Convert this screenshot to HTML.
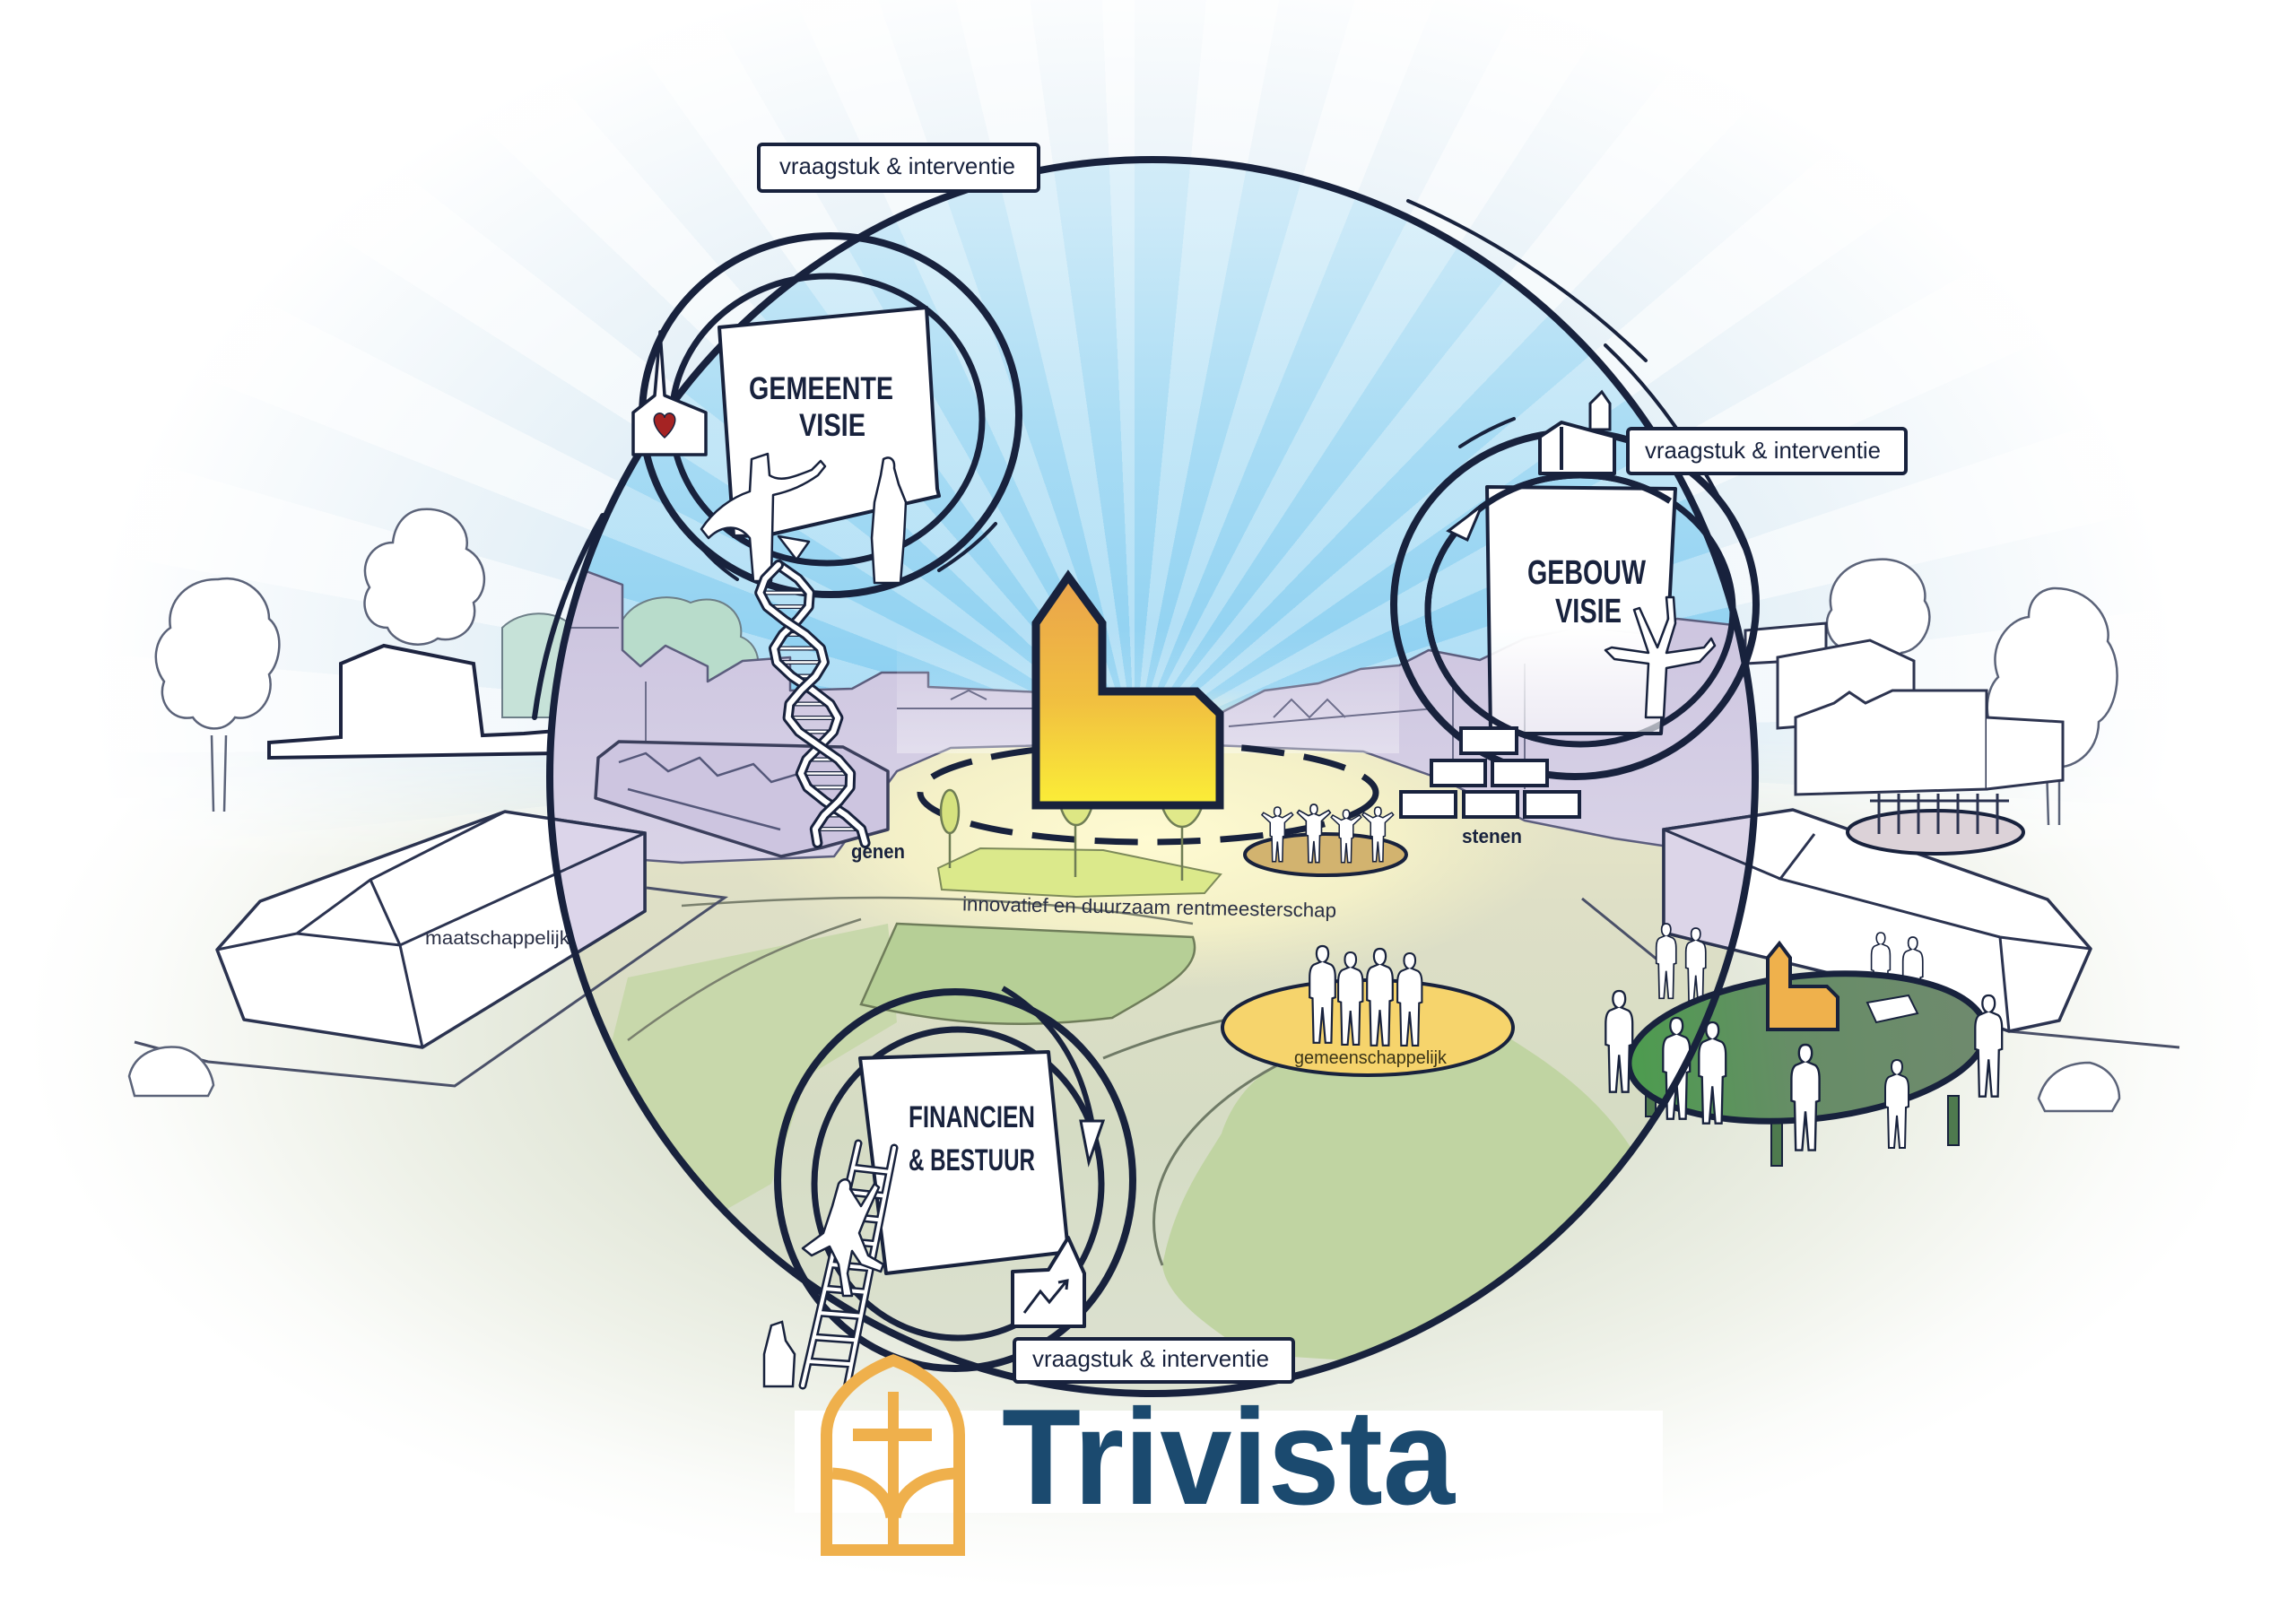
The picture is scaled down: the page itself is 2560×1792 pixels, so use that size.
<!DOCTYPE html>
<html><head><meta charset="utf-8">
<style>
html,body{margin:0;padding:0;width:2560px;height:1792px;overflow:hidden;background:#fff}
.l{position:absolute;left:0;top:0;width:2560px;height:1792px}
#bg{background:
 repeating-conic-gradient(from 0deg at 1265px 830px, rgba(255,255,255,0) 0deg 5.5deg, rgba(255,255,255,.55) 5.5deg 11deg),
 radial-gradient(ellipse 1350px 950px at 1265px 760px, #c6e2f3 0%, #d9ebf6 35%, #ecf4f9 60%, #ffffff 86%);}
#sky{clip-path:ellipse(672px 688px at 1285px 866px);
 background:
 repeating-conic-gradient(from 0deg at 1265px 830px, rgba(255,255,255,0) 0deg 5.5deg, rgba(255,255,255,.30) 5.5deg 11deg),
 linear-gradient(180deg,#e3f2fb 0px,#cdeaf8 230px,#a9dcf4 480px,#8acff1 800px);}
svg text{font-family:"Liberation Sans",sans-serif}
</style></head><body>
<div class="l" id="bg"></div>
<div class="l" id="sky"></div>
<svg class="l" width="2560" height="1792" viewBox="0 0 2560 1792" xmlns="http://www.w3.org/2000/svg">
<defs>
 <clipPath id="E"><ellipse cx="1285" cy="866" rx="672" ry="688"/></clipPath>
 <linearGradient id="churchG" x1="0" y1="0" x2="0" y2="1">
  <stop offset="0" stop-color="#eaa34b"/><stop offset="0.55" stop-color="#f1c040"/><stop offset="1" stop-color="#fbee37"/>
 </linearGradient>
 <radialGradient id="go" gradientUnits="userSpaceOnUse" cx="1280" cy="1150" r="1250" gradientTransform="translate(0 575) scale(1 0.5)">
  <stop offset="0" stop-color="#d6ddc6"/><stop offset="0.45" stop-color="#dfe4d4"/><stop offset="0.7" stop-color="#eef1e8"/><stop offset="0.9" stop-color="#fbfcfa"/><stop offset="1" stop-color="#ffffff"/>
 </radialGradient>
 <linearGradient id="gmg" gradientUnits="userSpaceOnUse" x1="0" y1="820" x2="0" y2="960">
  <stop offset="0" stop-color="#000"/><stop offset="1" stop-color="#fff"/>
 </linearGradient>
 <mask id="gm" maskUnits="userSpaceOnUse" x="0" y="0" width="2560" height="1792"><rect x="0" y="820" width="2560" height="972" fill="url(#gmg)"/></mask>
 <linearGradient id="gi" gradientUnits="userSpaceOnUse" x1="0" y1="830" x2="0" y2="1554">
  <stop offset="0" stop-color="#ebe8c8"/><stop offset="0.25" stop-color="#dedfc6"/><stop offset="0.6" stop-color="#d5dcc4"/><stop offset="1" stop-color="#dde2d2"/>
 </linearGradient>
 <linearGradient id="purp" gradientUnits="userSpaceOnUse" x1="0" y1="640" x2="0" y2="960">
  <stop offset="0" stop-color="#cbc3de"/><stop offset="0.5" stop-color="#d2cbe3"/><stop offset="1" stop-color="#d9d3e7"/>
 </linearGradient>
 <radialGradient id="plaza" gradientUnits="userSpaceOnUse" cx="1280" cy="935" r="460" gradientTransform="translate(0 589) scale(1 0.37)">
  <stop offset="0" stop-color="#fffbd2"/><stop offset="0.6" stop-color="#f7f3c8" stop-opacity="0.85"/><stop offset="1" stop-color="#f1eec6" stop-opacity="0"/>
 </radialGradient>
 <linearGradient id="tableG" x1="0" y1="0" x2="1" y2="0">
  <stop offset="0" stop-color="#4c9c4e"/><stop offset="0.45" stop-color="#668d66"/><stop offset="1" stop-color="#6f8a6e"/>
 </linearGradient>
 <linearGradient id="sheetG" gradientUnits="userSpaceOnUse" x1="0" y1="700" x2="0" y2="820">
  <stop offset="0" stop-color="#fff"/><stop offset="1" stop-color="#fff" stop-opacity="0.6"/>
 </linearGradient>
 <linearGradient id="haze" gradientUnits="userSpaceOnUse" x1="0" y1="700" x2="0" y2="840">
  <stop offset="0" stop-color="#fff" stop-opacity="0"/><stop offset="1" stop-color="#fff" stop-opacity="0.35"/>
 </linearGradient>
 <path id="pp" d="M15 0 C20 0 21 4 21 8 C21 12 19 15 17 16 L24 19 C27 21 28 26 28 32 L28 52 L25 53 L24 98 L18 98 L15 62 L12 98 L6 98 L5 53 L2 52 L2 32 C2 26 3 21 6 19 L13 16 C11 15 9 12 9 8 C9 4 10 0 15 0 Z"/>
 <path id="pa" d="M15 0 C20 0 21 4 21 8 C21 12 19 15 17 16 L24 19 L40 10 L43 14 L28 28 L28 52 L25 53 L24 98 L18 98 L15 62 L12 98 L6 98 L5 53 L2 52 L2 28 L-13 14 L-10 10 L6 19 L13 16 C11 15 9 12 9 8 C9 4 10 0 15 0 Z"/>
</defs>

<!-- outside ground -->
<rect x="0" y="820" width="2560" height="972" fill="url(#go)" mask="url(#gm)"/>

<!-- left side outside: trees & buildings -->
<g fill="#fff" stroke="#5b6379" stroke-width="2.5">
 <path d="M236 820 L238 905 M252 820 L250 905" fill="none"/>
 <path d="M243 646 C275 640 300 665 300 690 C318 705 312 740 300 752 C308 780 285 805 262 800 C250 818 225 815 215 800 C190 805 175 780 183 760 C168 740 172 712 190 700 C185 670 210 645 243 646 Z"/>
 <path d="M470 568 C505 565 525 590 520 612 C545 625 545 660 528 672 C535 700 510 718 488 712 C470 725 440 718 432 700 C408 700 400 672 412 655 C398 630 415 605 438 605 C440 585 452 570 470 568 Z"/>
 <path d="M2092 624 C2125 620 2150 645 2146 670 C2160 690 2145 725 2120 728 C2105 742 2075 740 2065 725 C2040 725 2030 695 2042 680 C2035 650 2060 625 2092 624 Z"/>
 <path d="M2086 728 L2088 790 M2098 728 L2098 790" fill="none"/>
 <path d="M2290 656 C2330 655 2355 690 2350 715 C2368 740 2362 790 2340 805 C2340 840 2310 860 2285 855 C2260 870 2232 850 2232 825 C2210 810 2212 770 2228 755 C2215 720 2240 690 2262 688 C2262 668 2275 657 2290 656 Z"/>
 <path d="M2282 855 L2284 920 M2296 855 L2296 920" fill="none"/>
</g>
<path d="M560 700 C580 680 620 678 640 700 C670 700 690 730 680 760 C690 790 660 810 630 800 L560 800 Z" fill="#c6e2d8" stroke="#6d7f88" stroke-width="2"/>
<path d="M300 828 L380 822 L380 740 L428 720 L528 740 L538 820 L584 818 L620 815 L620 840 L300 845 Z" fill="#fff" stroke="#1d2440" stroke-width="4"/>
<!-- right outside buildings -->
<g fill="#fff" stroke="#2d3450" stroke-width="3">
 <path d="M1946 703 L2036 695 L2036 735 L1946 740 Z"/>
 <path d="M1982 733 L2085 714 L2134 737 L2134 800 L1982 812 Z"/>
 <path d="M2002 800 L2045 784 L2062 772 L2080 784 L2110 770 L2215 770 L2215 880 L2002 886 Z"/>
 <path d="M2215 800 L2300 805 L2300 870 L2215 880"/>
</g>

<!-- inside ellipse world -->
<g clip-path="url(#E)">
 <rect x="600" y="820" width="1370" height="760" fill="url(#gi)"/>
 <ellipse cx="1280" cy="935" rx="460" ry="170" fill="url(#plaza)"/>
 <path d="M690 700 C700 670 740 658 770 672 C800 660 830 680 826 710 C850 720 850 750 836 770 L690 780 Z" fill="#b8dccb" stroke="#6d7f88" stroke-width="2"/>
 <path d="M600 950 L600 660 L590 650 L640 632 L694 652 L694 725 L714 743 L742 720 L789 743 L789 760 L828 737 L881 733 L881 770 L950 768 L983 750 L1035 750 L1035 766 L1160 772 L1160 782 L1361 795 L1410 770 L1470 762 L1517 746 L1560 742 L1593 725 L1650 736 L1700 712 L1760 700 L1830 706 L1870 690 L1960 700 L1960 960 L1900 950 L1800 935 L1700 915 L1610 870 L1520 838 L1280 828 L1060 834 L1000 860 L930 955 L760 962 L620 952 Z" fill="url(#purp)" stroke="#5c5e7e" stroke-width="2.5" stroke-linejoin="round"/>
 <rect x="1000" y="700" width="560" height="140" fill="url(#haze)"/>
 <g fill="none" stroke="#6e6f8c" stroke-width="2">
  <path d="M1000 790 L1160 790 M1370 810 L1600 790 M1420 800 L1440 780 L1460 800 L1480 780 L1500 800 M1060 780 L1080 770 L1100 780 M600 700 L690 700 M720 760 L720 850 M1620 760 L1620 860 M1700 740 L1700 880"/>
 </g>
 <path d="M667 845 L690 827 L940 833 L990 860 L990 925 L917 945 L871 955 L664 890 Z" fill="#cdc5e0" stroke="#3b3f5c" stroke-width="3.5" stroke-linejoin="round"/>
 <path d="M690 850 L720 840 L745 860 L780 845 L800 865 L840 852 L860 872 L900 860 M700 880 L870 925" fill="none" stroke="#55587a" stroke-width="2.5"/>
 <path d="M700 1090 L990 1030 L1000 1140 L900 1200 L860 1320 L720 1400 L660 1250 Z" fill="#c8d8ab"/>
 <path d="M1000 1030 L1330 1045 C1342 1080 1300 1100 1240 1135 C1120 1150 1040 1138 960 1120 Z" fill="#b6cf96" stroke="#6f7d5a" stroke-width="2.5"/>
 <path d="M1362 1264 C1380 1210 1420 1185 1444 1181 C1520 1150 1600 1130 1641 1132 C1720 1180 1790 1220 1838 1313 C1790 1400 1720 1480 1641 1526 L1395 1510 C1330 1470 1300 1440 1296 1411 C1310 1340 1340 1300 1362 1264 Z" fill="#c0d4a2"/>
 <path d="M1296 1411 C1260 1320 1330 1230 1450 1175 M1230 1180 C1350 1130 1500 1110 1600 1105" fill="none" stroke="#6f7a66" stroke-width="3"/>
 <path d="M760 1010 C900 1000 1100 990 1330 1030 M700 1160 C780 1100 850 1060 960 1025" fill="none" stroke="#7a806e" stroke-width="2.5"/>
</g>

<!-- left big building -->
<path d="M150 1162 L232 1184 L507 1211 L808 1001 L721 990" fill="none" stroke="#4a5068" stroke-width="3"/>
<path d="M242 1059 L290 1005 L563 905 L719 929 L719 1016 L471 1168 L272 1137 Z" fill="#fff" stroke="#2b3350" stroke-width="3.5" stroke-linejoin="round"/>
<g clip-path="url(#E)"><path d="M242 1059 L290 1005 L563 905 L719 929 L719 1016 L471 1168 L272 1137 Z" fill="#dcd5ea" stroke="#2b3350" stroke-width="3.5"/></g>
<path d="M242 1059 L331 1041 L413 981 L563 905 M331 1041 L446 1054 L719 929 M446 1054 L471 1168 M413 981 L446 1054" fill="none" stroke="#2b3350" stroke-width="3"/>
<path d="M144 1200 C150 1175 175 1165 200 1168 C220 1172 235 1190 238 1210 L232 1222 L150 1222 Z" fill="#fff" stroke="#5b6379" stroke-width="2.5"/>

<!-- right big building -->
<path d="M1764 1002 L1860 1080 M2240 1150 L2430 1168" fill="none" stroke="#4a5068" stroke-width="3"/>
<path d="M1855 925 L1999 903 L2283 1003 L2331 1058 L2296 1138 L2240 1150 L2100 1100 L1855 1040 Z" fill="#fff" stroke="#2b3350" stroke-width="3.5" stroke-linejoin="round"/>
<g clip-path="url(#E)"><path d="M1855 925 L1999 903 L2283 1003 L2331 1058 L2296 1138 L2240 1150 L2100 1100 L1855 1040 Z" fill="#dcd5e8" stroke="#2b3350" stroke-width="3.5"/></g>
<path d="M2023 930 L1985 980 L2230 1045 L2331 1058 M1855 925 L1985 980 M2230 1045 L2240 1150" fill="none" stroke="#2b3350" stroke-width="3"/>
<path d="M2273 1225 C2280 1200 2300 1185 2330 1185 C2350 1190 2363 1205 2363 1225 L2355 1239 L2280 1239 Z" fill="#fff" stroke="#5b6379" stroke-width="2.5"/>
<ellipse cx="2158" cy="928" rx="98" ry="24" fill="#dcd2d8" stroke="#18223d" stroke-width="4"/>
<g stroke="#2b3350" stroke-width="3" fill="none">
 <path d="M2085 893 L2240 893"/>
 <path d="M2095 885 L2095 930 M2117 885 L2117 930 M2139 885 L2139 930 M2161 885 L2161 930 M2183 885 L2183 930 M2205 885 L2205 930 M2227 885 L2227 930"/>
</g>

<!-- center plaza -->
<ellipse cx="1280" cy="884" rx="254" ry="55" fill="none" stroke="#18223d" stroke-width="7" stroke-dasharray="48 22"/>
<path d="M1046 968 L1093 946 L1230 948 L1361 975 L1343 996 L1200 1000 L1050 992 Z" fill="#dbe98b" stroke="#7d8a5a" stroke-width="2"/>
<g stroke="#6f7d55" stroke-width="2.5">
 <path d="M1059 925 L1059 968 M1199 900 L1199 978 M1318 905 L1318 982" fill="none"/>
 <ellipse cx="1059" cy="905" rx="10" ry="24" fill="#d6e27f"/>
 <ellipse cx="1200" cy="880" rx="20" ry="40" fill="#dde784"/>
 <ellipse cx="1318" cy="870" rx="27" ry="52" fill="#e0e98a"/>
</g>
<polygon points="1191,643 1155,695 1155,898 1360,898 1360,796 1334,771 1229,771 1229,695" fill="url(#churchG)" stroke="#18223d" stroke-width="9" stroke-linejoin="miter"/>
<ellipse cx="1478" cy="953" rx="90" ry="23" fill="#d2b36f" stroke="#18223d" stroke-width="4"/>
<g fill="#fff" stroke="#18223d" stroke-width="2.5">
 <use href="#pa" transform="translate(1415 900) scale(0.62)"/>
 <use href="#pa" transform="translate(1455 897) scale(0.66)"/>
 <use href="#pa" transform="translate(1492 903) scale(0.6)"/>
 <use href="#pa" transform="translate(1527 900) scale(0.62)"/>
</g>
<ellipse cx="1525" cy="1146" rx="162" ry="53" fill="#f6d46c" stroke="#18223d" stroke-width="4"/>
<g fill="#fff" stroke="#18223d" stroke-width="2">
 <use href="#pp" transform="translate(1458 1055) scale(1.1)"/>
 <use href="#pp" transform="translate(1490 1062) scale(1.05)"/>
 <use href="#pp" transform="translate(1522 1058) scale(1.1)"/>
 <use href="#pp" transform="translate(1556 1063) scale(1.05)"/>
</g>

<!-- table -->
<g fill="#4e7a4e" stroke="#18223d" stroke-width="2">
 <rect x="1835" y="1185" width="11" height="60"/><rect x="1975" y="1240" width="12" height="60"/><rect x="2172" y="1222" width="12" height="55"/>
</g>
<g fill="#fff" stroke="#18223d" stroke-width="2">
 <use href="#pp" transform="translate(1845 1030) scale(0.85)"/>
 <use href="#pp" transform="translate(1878 1035) scale(0.85)"/>
 <use href="#pp" transform="translate(2085 1040) scale(0.8)"/>
 <use href="#pp" transform="translate(2120 1045) scale(0.85)"/>
</g>
<ellipse cx="2015" cy="1168" rx="200" ry="80" transform="rotate(-6 2015 1168)" fill="url(#tableG)" stroke="#18223d" stroke-width="7"/>
<polygon points="1984,1052 1971,1068 1971,1148 2049,1148 2049,1112 2037,1100 1996,1100 1996,1068" fill="#efb14c" stroke="#18223d" stroke-width="4"/>
<path d="M2082 1118 L2128 1110 L2138 1130 L2092 1140 Z" fill="#fff" stroke="#18223d" stroke-width="2"/>
<g fill="#fff" stroke="#18223d" stroke-width="2">
 <use href="#pp" transform="translate(1788 1105) scale(1.15)"/>
 <use href="#pp" transform="translate(1852 1135) scale(1.15)"/>
 <use href="#pp" transform="translate(1892 1140) scale(1.15)"/>
 <use href="#pp" transform="translate(1995 1165) scale(1.2)"/>
 <use href="#pp" transform="translate(2100 1182) scale(1.0)"/>
 <use href="#pp" transform="translate(2200 1110) scale(1.15)"/>
</g>

<!-- main ellipse -->
<ellipse cx="1285" cy="866" rx="672" ry="688" fill="none" stroke="#18223d" stroke-width="8"/>
<g fill="none" stroke="#18223d" stroke-linecap="round">
 <path d="M1570 224 Q1720 290 1835 402" stroke-width="4"/>
 <path d="M1790 385 Q1880 470 1945 612" stroke-width="4"/>
 <path d="M672 575 Q612 680 596 800" stroke-width="6"/>
</g>

<!-- GEMEENTE circle -->
<ellipse cx="926" cy="463" rx="210" ry="200" fill="none" stroke="#18223d" stroke-width="8"/>
<ellipse cx="922" cy="468" rx="173" ry="160" fill="none" stroke="#18223d" stroke-width="7"/>
<polygon points="802,365 1033,343 1045,545 1047,553 855,597 818,598" fill="#fff" stroke="#18223d" stroke-width="4" stroke-linejoin="round"/>
<text x="835" y="445" font-size="35" font-weight="bold" fill="#18223d" textLength="161" lengthAdjust="spacingAndGlyphs">GEMEENTE</text>
<text x="891" y="486" font-size="35" font-weight="bold" fill="#18223d" textLength="74" lengthAdjust="spacingAndGlyphs">VISIE</text>
<g fill="#fff" stroke="#18223d" stroke-width="2.5" stroke-linejoin="round">
 <path d="M838 512 L856 506 L858 530 C870 538 885 532 905 524 L915 514 L920 520 L912 530 C895 542 880 548 862 552 L860 648 L840 648 L836 600 C820 580 800 590 790 600 L782 590 C795 570 815 555 836 548 Z"/>
 <path d="M985 512 C992 508 998 512 997 522 L1002 540 L1010 560 L1008 600 L1004 650 L975 650 L972 600 L975 560 L982 530 Z"/>
 <polygon points="868,598 902,604 888,624"/>
</g>
<g fill="none" stroke="#18223d" stroke-width="4" stroke-linecap="round">
 <path d="M777 604 Q795 628 822 646"/>
 <path d="M1047 636 Q1085 612 1110 584"/>
</g>
<path d="M736 370 L741 441 L787 460 L787 507 L706 507 L706 460 L730 441 Z" fill="#fff" stroke="#18223d" stroke-width="3.5" stroke-linejoin="round"/>
<path d="M741 488 C728 476 726 464 734 461 C738 460 741 463 741 466 C741 463 744 460 748 461 C756 464 754 476 741 488 Z" fill="#a52323" stroke="#18223d" stroke-width="1.5"/>

<!-- DNA -->
<g fill="none" stroke-linecap="round" stroke-linejoin="round">
 <g stroke="#18223d" stroke-width="5">
  <path d="M902.8 661 L847.2 661 M901.7 676.5 L855.3 676.5 M872.8 707.5 L898.2 707.5 M863 723 L915 723 M866.1 738.5 L918.9 738.5 M882.5 754 L909.5 754 M925.6 785 L880.4 785 M934.4 800.5 L878.6 800.5 M929.2 816 L890.8 816 M899.2 847 L934.8 847 M892.8 862.5 L948.2 862.5 M900.3 878 L947.7 878 M942.9 909 L919.1 909 M960.2 924.5 L908.8 924.5"/>
 </g>
 <g stroke="#fff" stroke-width="2.5">
  <path d="M902.8 661 L847.2 661 M901.7 676.5 L855.3 676.5 M872.8 707.5 L898.2 707.5 M863 723 L915 723 M866.1 738.5 L918.9 738.5 M882.5 754 L909.5 754 M925.6 785 L880.4 785 M934.4 800.5 L878.6 800.5 M929.2 816 L890.8 816 M899.2 847 L934.8 847 M892.8 862.5 L948.2 862.5 M900.3 878 L947.7 878 M942.9 909 L919.1 909 M960.2 924.5 L908.8 924.5"/>
 </g>
 <path d="M868 630 L890 645.5 L902.8 661 L901.7 676.5 L889 692 L872.8 707.5 L863 723 L866.1 738.5 L882.5 754 L905.6 769.5 L925.6 785 L934.4 800.5 L929.2 816 L914.4 831.5 L899.2 847 L892.8 862.5 L900.3 878 L919.7 893.5 L942.9 909 L960.2 924.5 L964.6 940" stroke="#18223d" stroke-width="12"/>
 <path d="M868 630 L890 645.5 L902.8 661 L901.7 676.5 L889 692 L872.8 707.5 L863 723 L866.1 738.5 L882.5 754 L905.6 769.5 L925.6 785 L934.4 800.5 L929.2 816 L914.4 831.5 L899.2 847 L892.8 862.5 L900.3 878 L919.7 893.5 L942.9 909 L960.2 924.5 L964.6 940" stroke="#fff" stroke-width="6"/>
 <path d="M868 630 L853 645.5 L847.2 661 L855.3 676.5 L875 692 L898.2 707.5 L915 723 L918.9 738.5 L909.5 754 L893.4 769.5 L880.4 785 L878.6 800.5 L890.8 816 L912.6 831.5 L934.8 847 L948.2 862.5 L947.7 878 L935.3 893.5 L919.1 909 L908.8 924.5 L911.4 940" stroke="#18223d" stroke-width="12"/>
 <path d="M868 630 L853 645.5 L847.2 661 L855.3 676.5 L875 692 L898.2 707.5 L915 723 L918.9 738.5 L909.5 754 L893.4 769.5 L880.4 785 L878.6 800.5 L890.8 816 L912.6 831.5 L934.8 847 L948.2 862.5 L947.7 878 L935.3 893.5 L919.1 909 L908.8 924.5 L911.4 940" stroke="#fff" stroke-width="6"/>
</g>
<text x="949" y="957" font-size="22" font-weight="bold" fill="#18223d" textLength="60" lengthAdjust="spacingAndGlyphs">genen</text>

<!-- GEBOUW circle -->
<ellipse cx="1756" cy="674" rx="202" ry="192" fill="none" stroke="#18223d" stroke-width="8"/>
<ellipse cx="1762" cy="680" rx="170" ry="150" fill="none" stroke="#18223d" stroke-width="7"/>
<polygon points="1658,543 1868,545 1860,700 1852,818 1662,818" fill="url(#sheetG)" stroke="#18223d" stroke-width="4" stroke-linejoin="round"/>
<ellipse cx="1762" cy="680" rx="170" ry="150" fill="none" stroke="#18223d" stroke-width="7" stroke-dasharray="0 300 560 200"/>
<text x="1703" y="651" font-size="38" font-weight="bold" fill="#18223d" textLength="132" lengthAdjust="spacingAndGlyphs">GEBOUW</text>
<text x="1734" y="694" font-size="38" font-weight="bold" fill="#18223d" textLength="74" lengthAdjust="spacingAndGlyphs">VISIE</text>
<path d="M1835 800 L1838 740 L1800 735 L1790 725 L1797 722 L1838 728 L1822 680 L1828 678 L1848 722 L1860 690 L1858 666 L1866 666 L1868 695 L1858 728 L1900 722 L1908 712 L1912 720 L1895 738 L1858 745 L1855 800 Z" fill="#fff" stroke="#18223d" stroke-width="2.5" stroke-linejoin="round"/>
<polygon points="1615,592 1652,564 1636,602" fill="#fff" stroke="#18223d" stroke-width="3"/>
<g fill="none" stroke="#18223d" stroke-width="4" stroke-linecap="round">
 <path d="M1628 498 Q1655 480 1688 467"/>
</g>
<path d="M1717 528 L1717 487 L1741 471 L1800 487 L1800 528 Z M1741 476 L1741 524" fill="#fff" stroke="#18223d" stroke-width="4" stroke-linejoin="round"/>
<path d="M1773 479 L1773 450 L1786 437 L1795 450 L1795 479 Z" fill="#fff" stroke="#18223d" stroke-width="3"/>
<g fill="#fff" stroke="#18223d" stroke-width="4">
 <rect x="1629" y="812" width="62" height="28"/>
 <rect x="1596" y="848" width="60" height="28"/><rect x="1664" y="848" width="61" height="28"/>
 <rect x="1562" y="883" width="61" height="28"/><rect x="1632" y="883" width="60" height="28"/><rect x="1700" y="883" width="61" height="28"/>
</g>
<text x="1630" y="940" font-size="22" font-weight="bold" fill="#18223d" textLength="67" lengthAdjust="spacingAndGlyphs">stenen</text>

<!-- FINANCIEN circle -->
<ellipse cx="1065" cy="1316" rx="198" ry="210" fill="none" stroke="#18223d" stroke-width="8"/>
<ellipse cx="1068" cy="1320" rx="160" ry="172" fill="none" stroke="#18223d" stroke-width="7"/>
<polygon points="959,1180 1169,1173 1191,1396 988,1420" fill="#fff" stroke="#18223d" stroke-width="4" stroke-linejoin="round"/>
<text x="1013" y="1257" font-size="34" font-weight="bold" fill="#18223d" textLength="141" lengthAdjust="spacingAndGlyphs">FINANCIEN</text>
<text x="1013" y="1305" font-size="34" font-weight="bold" fill="#18223d" textLength="141" lengthAdjust="spacingAndGlyphs">&amp; BESTUUR</text>
<path d="M1118 1102 Q1200 1150 1218 1255" fill="none" stroke="#18223d" stroke-width="6"/>
<polygon points="1205,1250 1230,1250 1214,1296" fill="#fff" stroke="#18223d" stroke-width="3"/>
<path d="M1129 1418 L1169 1416 L1191 1380 L1209 1420 L1209 1479 L1129 1479 Z" fill="#fff" stroke="#18223d" stroke-width="4" stroke-linejoin="round"/>
<path d="M1142 1464 L1160 1440 L1170 1452 L1188 1430 M1180 1430 L1190 1428 L1189 1438" fill="none" stroke="#18223d" stroke-width="3"/>
<g stroke-linecap="round">
 <path d="M957 1275 L895 1545 M997 1280 L944 1548 M950.8 1302 L991.7 1306.8 M944.6 1329 L986.4 1333.6 M938.4 1356 L981.1 1360.4 M932.2 1383 L975.8 1387.2 M926 1410 L970.5 1414 M919.8 1437 L965.2 1440.8 M913.6 1464 L959.9 1467.6 M907.4 1491 L954.6 1494.4 M901.2 1518 L949.3 1521.2" stroke="#18223d" stroke-width="9"/>
 <path d="M957 1275 L895 1545 M997 1280 L944 1548 M950.8 1302 L991.7 1306.8 M944.6 1329 L986.4 1333.6 M938.4 1356 L981.1 1360.4 M932.2 1383 L975.8 1387.2 M926 1410 L970.5 1414 M919.8 1437 L965.2 1440.8 M913.6 1464 L959.9 1467.6 M907.4 1491 L954.6 1494.4 M901.2 1518 L949.3 1521.2" stroke="#fff" stroke-width="4"/>
</g>
<path d="M935 1320 C940 1312 950 1314 948 1326 L960 1345 L975 1320 L980 1324 L966 1355 L958 1375 L968 1400 L985 1410 L982 1418 L960 1410 L950 1395 L945 1420 L950 1445 L940 1445 L935 1410 L925 1390 L905 1400 L895 1392 L918 1375 L928 1345 Z" fill="#fff" stroke="#18223d" stroke-width="2.5" stroke-linejoin="round"/>
<path d="M860 1478 L872 1474 L876 1495 L886 1510 L884 1546 L852 1546 L852 1510 Z" fill="#fff" stroke="#18223d" stroke-width="2.5"/>

<!-- labels -->
<g fill="#fff" stroke="#18223d" stroke-width="4">
 <rect x="846" y="161" width="312" height="52" rx="4"/>
 <rect x="1815" y="478" width="310" height="50" rx="4"/>
 <rect x="1131" y="1493" width="311" height="48" rx="4"/>
</g>
<g font-size="26" fill="#18223d">
 <text x="869" y="194" textLength="263" lengthAdjust="spacingAndGlyphs">vraagstuk &amp; interventie</text>
 <text x="1834" y="511" textLength="263" lengthAdjust="spacingAndGlyphs">vraagstuk &amp; interventie</text>
 <text x="1151" y="1524" textLength="264" lengthAdjust="spacingAndGlyphs">vraagstuk &amp; interventie</text>
</g>
<text x="474" y="1053" font-size="21" fill="#2a2f45" textLength="161" lengthAdjust="spacingAndGlyphs">maatschappelijk</text>
<text x="1073" y="1019" font-size="22" fill="#2a2f45" textLength="417" lengthAdjust="spacingAndGlyphs" transform="rotate(1 1280 1015)">innovatief en duurzaam rentmeesterschap</text>
<text x="1443" y="1186" font-size="20" fill="#3a3418" textLength="170" lengthAdjust="spacingAndGlyphs">gemeenschappelijk</text>

<!-- logo -->
<rect x="886" y="1573" width="968" height="114" fill="#fff"/>
<g fill="none" stroke="#efb04c" stroke-width="13">
 <path d="M921.5 1728.5 L921.5 1600 C921.5 1560 960 1530 996 1517 C1032 1530 1069.5 1560 1069.5 1600 L1069.5 1728.5 Z" stroke-linejoin="miter"/>
 <path d="M928 1643 C965 1645 990 1665 994 1692"/>
 <path d="M1064 1643 C1027 1645 1002 1665 998 1692"/>
</g>
<rect x="990" y="1552" width="12" height="177" fill="#efb04c"/>
<rect x="951" y="1593" width="88" height="14" fill="#efb04c"/>
<text x="1117" y="1677" font-size="152" font-weight="bold" fill="#1b4a6f" textLength="505" lengthAdjust="spacingAndGlyphs">Trivista</text>
</svg>
</body></html>
